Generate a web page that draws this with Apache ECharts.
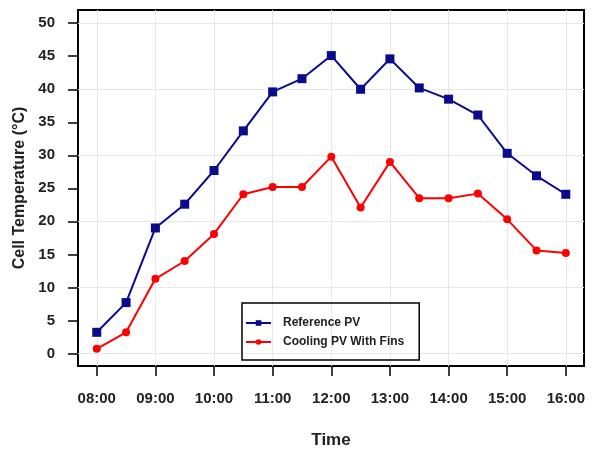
<!DOCTYPE html>
<html>
<head>
<meta charset="utf-8">
<script src="https://cdn.jsdelivr.net/npm/echarts@6/dist/echarts.min.js"></script>
<style>
  html, body { margin: 0; padding: 0; background: #fff; }
  #chart { width: 593px; height: 450px; }
</style>
</head>
<body>
<div id="chart"></div>
<script>
// time of day, every half hour
const times = ['08:00', '08:30', '09:00', '09:30', '10:00', '10:30', '11:00', '11:30',
    '12:00', '12:30', '13:00', '13:30', '14:00', '14:30', '15:00', '15:30', '16:00'];
// cell temperature (°C)
const referencePV = [3.2, 7.7, 19.0, 22.6, 27.7, 33.7, 39.6, 41.6, 45.1, 40.0, 44.6, 40.2, 38.5, 36.1, 30.3, 26.9, 24.1];
const coolingPV = [0.7, 3.2, 11.3, 14.0, 18.1, 24.1, 25.2, 25.2, 29.8, 22.1, 29.0, 23.5, 23.5, 24.2, 20.3, 15.6, 15.2];
// axis ticks
const yTicks = [0, 5, 10, 15, 20, 25, 30, 35, 40, 45, 50];
const yGrid = [0, 10, 20, 30, 40, 50];
const xTicks = [0, 2, 4, 6, 8, 10, 12, 14, 16];   // index into times (hours)

const font = 'Liberation Sans, Arial, sans-serif';

function pairs(arr) {
    return arr.map((v, i) => [i, v]);
}

const chart = echarts.init(document.getElementById('chart'));

chart.setOption({
    backgroundColor: '#fff',
    animation: false,
    grid: {
        left: 78, right: 9, top: 10, bottom: 84,
        outerBoundsMode: 'none',
        containLabel: false,
        show: true,
        borderColor: '#000',
        borderWidth: 2,
        backgroundColor: 'transparent'
    },
    legend: {
        orient: 'vertical',
        left: 242,
        top: 303,
        padding: [13, 15, 11, 3],
        itemWidth: 25,
        itemHeight: 7,
        itemGap: 5,
        borderColor: '#000',
        borderWidth: 1.5,
        textStyle: {
            fontFamily: font,
            fontSize: 12,
            fontWeight: 'bold',
            color: '#222',
            lineHeight: 14,
            padding: [0, 0, 0, 7]
        },
        data: ['Reference PV', 'Cooling PV With Fins']
    },
    xAxis: {
        type: 'value',
        min: -0.64,
        max: 16.62,
        name: 'Time',
        nameLocation: 'middle',
        nameGap: 66,
        nameTextStyle: { fontFamily: font, fontSize: 17, fontWeight: 'bold', color: '#222' },
        axisLine: { show: false, onZero: false },
        axisTick: {
            show: true, length: 10, inside: false,
            customValues: xTicks,
            lineStyle: { color: '#000', width: 1.5 }
        },
        axisLabel: {
            customValues: xTicks,
            margin: 25,
            fontFamily: font, fontSize: 15, fontWeight: 'bold', color: '#222',
            formatter: v => times[Math.round(v)]
        },
        splitLine: { show: true, lineStyle: { color: '#e8e8e8', width: 1 } }
    },
    yAxis: [{
        type: 'value',
        min: -1.9,
        max: 52,
        name: 'Cell Temperature (°C)',
        nameLocation: 'middle',
        nameGap: 45,
        nameTextStyle: { fontFamily: font, fontSize: 16, fontWeight: 'bold', color: '#222' },
        axisLine: { show: false, onZero: false },
        axisTick: {
            show: true, length: 10, inside: false,
            customValues: yTicks,
            lineStyle: { color: '#000', width: 1.5 }
        },
        axisLabel: {
            customValues: yTicks,
            margin: 23,
            fontFamily: font, fontSize: 15, fontWeight: 'bold', color: '#222'
        },
        splitLine: { show: false }
    }, {
        // grid lines every 10
        type: 'value',
        position: 'left',
        min: -1.9,
        max: 52,
        axisLine: { show: false, onZero: false },
        axisTick: { show: false, customValues: yGrid },
        axisLabel: { show: false, customValues: yGrid },
        splitLine: { show: true, lineStyle: { color: '#e8e8e8', width: 1 } }
    }],
    series: [{
        name: 'Reference PV',
        type: 'line',
        data: pairs(referencePV),
        symbol: 'rect',
        symbolSize: 9,
        lineStyle: { color: '#0a0a8c', width: 2 },
        itemStyle: { color: '#0a0a8c' },
        z: 3
    }, {
        name: 'Cooling PV With Fins',
        type: 'line',
        data: pairs(coolingPV),
        symbol: 'circle',
        symbolSize: 8,
        lineStyle: { color: '#ff0000', width: 2 },
        itemStyle: { color: '#ff0000' },
        z: 2
    }]
});
</script>
</body>
</html>
